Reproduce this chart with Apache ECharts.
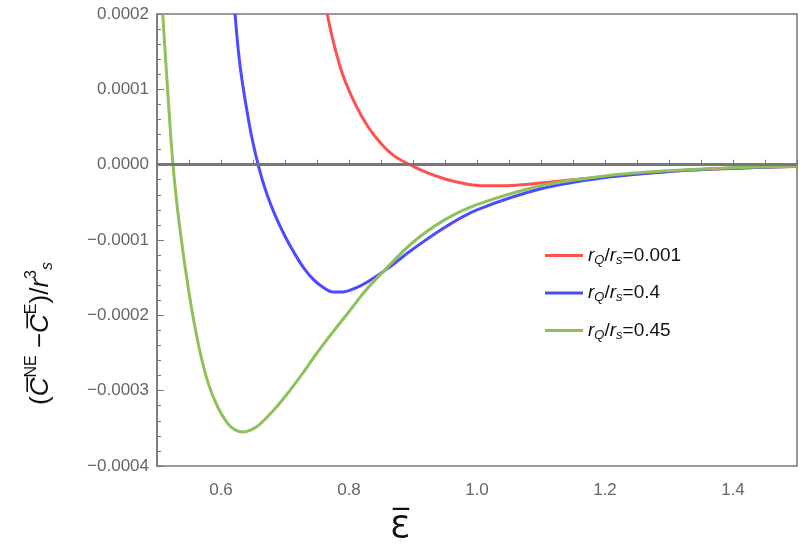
<!DOCTYPE html>
<html><head><meta charset="utf-8">
<script src="https://cdn.jsdelivr.net/npm/echarts@6/dist/echarts.min.js"></script>
<style>html,body{margin:0;background:#fff}#main{width:806px;height:559px}</style>
</head><body><div id="main"></div>
<script>
// values in units of 1e-4
var redX = [0.766, 0.775, 0.79, 0.81, 0.83, 0.85, 0.87, 0.895, 0.92, 0.95, 0.98, 1.01, 1.04, 1.08, 1.15, 1.2, 1.3, 1.4, 1.5];
var redY = [2.0, 1.65, 1.2, 0.8, 0.5, 0.28, 0.12, 0, -0.1, -0.19, -0.25, -0.28, -0.28, -0.26, -0.2, -0.16, -0.09, -0.05, -0.025];
var blueX = [0.622, 0.63, 0.645, 0.658, 0.67, 0.685, 0.7, 0.715, 0.73, 0.745, 0.76, 0.775, 0.79, 0.81, 0.83, 0.86, 0.9, 0.95, 1.0, 1.1, 1.2, 1.3, 1.4, 1.5];
var blueY = [2.0, 1.3, 0.5, 0, -0.35, -0.68, -0.95, -1.18, -1.38, -1.53, -1.63, -1.69, -1.69, -1.64, -1.55, -1.38, -1.12, -0.83, -0.6, -0.32, -0.17, -0.09, -0.045, -0.02];
var greenX = [0.509, 0.515, 0.525, 0.535, 0.55, 0.565, 0.58, 0.595, 0.61, 0.622, 0.634, 0.647, 0.66, 0.68, 0.7, 0.725, 0.75, 0.775, 0.8, 0.825, 0.85, 0.9, 0.95, 1.0, 1.1, 1.2, 1.3, 1.4, 1.5];
var greenY = [2.0, 1.2, 0, -0.8, -1.7, -2.4, -2.9, -3.22, -3.43, -3.52, -3.55, -3.52, -3.45, -3.28, -3.08, -2.8, -2.5, -2.22, -1.95, -1.68, -1.45, -1.03, -0.73, -0.53, -0.28, -0.15, -0.08, -0.04, -0.02];
var names = ['0.001', '0.4', '0.45'];
var colors = ['#ff5050', '#4b4bff', '#8fc15a'];
var xLabels = [0.6, 0.8, 1.0, 1.2, 1.4];

function pts(xs, ys) {
    var out = [];
    for (var i = 0; i < xs.length; i++) out.push([xs[i], ys[i] * 1e-4]);
    return out;
}
var xTicks = [];
for (var t = 0; t <= 20; t++) xTicks.push(0.5 + t * 0.05);

var font = 'Roboto, "Liberation Sans", sans-serif';
var myChart = echarts.init(document.getElementById('main'));
var series = [[redX, redY], [blueX, blueY], [greenX, greenY]].map(function(d, i) {
    return {
        name: names[i], type: 'line', smooth: 0.35, showSymbol: false,
        data: pts(d[0], d[1]), lineStyle: { width: 3, color: colors[i] }, itemStyle: { color: colors[i] },
        clip: true
    };
});
series.push({
    type: 'line', data: [], silent: true,
    markLine: { symbol: 'none', silent: true, label: { show: false },
        lineStyle: { color: '#777', width: 3, type: 'solid' }, data: [{ yAxis: 0 }] }
});

var option = {
    animation: false,
    grid: { left: 157, right: 9, top: 14, bottom: 93, show: true, borderColor: '#777', borderWidth: 1.5 },
    xAxis: {
        type: 'value', min: 0.5, max: 1.5,
        axisLine: { show: true, lineStyle: { color: '#777', width: 1.5 } },
        axisTick: { inside: true, length: 5, customValues: xTicks, lineStyle: { color: '#777' } },
        axisLabel: { customValues: xLabels, color: '#666', fontSize: 17, fontFamily: '"Liberation Sans", sans-serif', margin: 16,
            formatter: function(v) { return v.toFixed(1); } },
        splitLine: { show: false }
    },
    yAxis: {
        type: 'value', min: -0.0004, max: 0.0002, interval: 0.0001,
        axisLine: { show: true, lineStyle: { color: '#777', width: 1.5 } },
        axisTick: { inside: true, length: 7, lineStyle: { color: '#777' } },
        minorTick: { show: true, splitNumber: 5, length: 4, lineStyle: { color: '#777' } },
        axisLabel: { color: '#666', fontSize: 17, fontFamily: '"Liberation Sans", sans-serif', margin: 8,
            formatter: function(v) { var s = Math.abs(v).toFixed(4); return (v < -1e-12 ? '\u2212' : '') + s; } },
        splitLine: { show: false }, minorSplitLine: { show: false }
    },
    legend: {
        orient: 'vertical', left: 540, top: 241, itemGap: 17, itemWidth: 38, itemHeight: 3,
        icon: 'rect', data: names,
        formatter: function(n) { return '{i|r}{s|Q}{n|/}{i|r}{s|s}{n|=' + n + '}'; },
        textStyle: { rich: {
            i: { fontStyle: 'italic', fontSize: 19, fontFamily: '"Liberation Sans", sans-serif', color: '#111' },
            s: { fontStyle: 'italic', fontSize: 13, fontFamily: '"Liberation Sans", sans-serif', color: '#111', padding: [9, 0, 0, 0] },
            n: { fontSize: 19, fontFamily: '"Liberation Sans", sans-serif', color: '#111' }
        } }
    },
    graphic: [
        { type: 'text', left: 390, top: 514,
          style: { text: '\u0190\u0305', fontSize: 32, fontFamily: '"DejaVu Sans", sans-serif', fill: '#111' } },
        { type: 'text', x: 24, y: 405, rotation: Math.PI / 2,
          style: {
            text: '{n|(}{i|C\u0305}{p|NE}{n| \u2212}{i|C\u0305}{p|E}{n|)/}{i|r}{p|3}{s|s}',
            fill: '#111',
            rich: {
                n: { fontSize: 26, fontFamily: '"Liberation Sans", sans-serif', fill: '#111' },
                i: { fontSize: 26, fontFamily: '"Liberation Sans", sans-serif', fontStyle: 'italic', fill: '#111' },
                p: { fontSize: 16, fontFamily: '"Liberation Sans", sans-serif', fill: '#111', padding: [0, 0, 18, 0] },
                s: { fontSize: 16, fontFamily: '"Liberation Sans", sans-serif', fontStyle: 'italic', fill: '#111', padding: [14, 0, 0, 0] }
            }
          } }
    ],
    series: series
};
myChart.setOption(option);
</script>
</body></html>
